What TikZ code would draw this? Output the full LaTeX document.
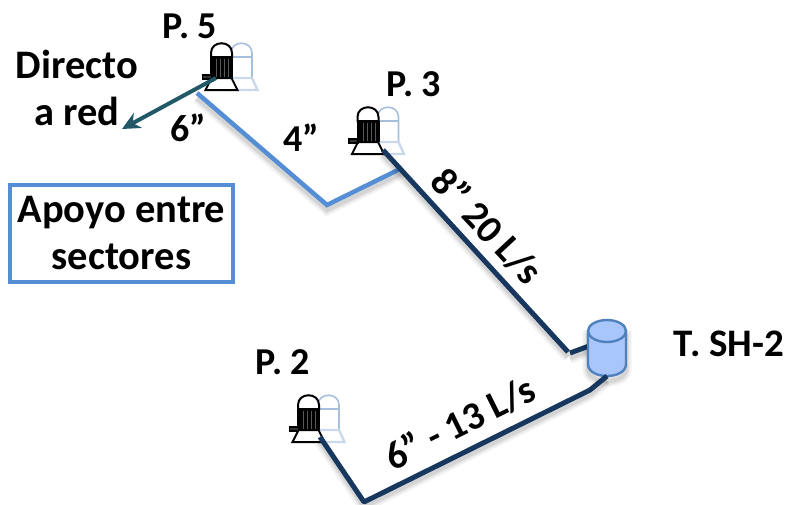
\documentclass[tikz,border=0pt]{standalone}
\usepackage{fontspec}
\setmainfont{Carlito}
\usetikzlibrary{shapes.geometric,arrows.meta}
\definecolor{navy}{HTML}{17375E}
\definecolor{lblue}{HTML}{558ED5}
\definecolor{teal}{HTML}{215968}
\definecolor{tankfill}{HTML}{A9C6FA}
\definecolor{tankline}{HTML}{4F81BD}
\definecolor{ghost}{HTML}{A6BFDD}
\tikzset{
  lbl/.style={font=\fontsize{38}{47}\selectfont\bfseries,text=black,inner sep=0pt,align=center},
  lblbig/.style={lbl,font=\fontsize{40.5}{47}\selectfont\bfseries},
  lblmid/.style={lbl,font=\fontsize{39}{47}\selectfont\bfseries},
  softshadow/.style={
    preaction={draw=black,opacity=.05,line width=11pt,transform canvas={yshift=-5pt},-},
    preaction={draw=black,opacity=.06,line width=7pt,transform canvas={yshift=-5pt},-},
    preaction={draw=black,opacity=.07,line width=4pt,transform canvas={yshift=-5pt},-}},
  navypipe/.style={softshadow,draw=navy,line width=5pt},
  bluepipe/.style={softshadow,draw=lblue,line width=4.5pt},
  arrowpipe/.style={draw=teal,line width=4pt,-{Stealth[length=18pt,width=17pt]}},
  pumpghost/.pic={
    \draw[ghost,line width=1.6pt] (-10.5,-12) -- (-10.5,-37) .. controls (-10.5,-50) and (10.5,-50) .. (10.5,-37) -- (10.5,-12);
    \draw[ghost,line width=1.6pt] (-10.5,-33) -- (10.5,-33);
    \draw[ghost!60,line width=2.4pt] (-10.5,-12) -- (10.5,-12) -- (16,0) -- (-16,0);
  },
  pumpblack/.pic={
    \draw[black,fill=white,line width=2pt] (-10.5,-33) -- (-10.5,-37) .. controls (-10.5,-50) and (10.5,-50) .. (10.5,-37) -- (10.5,-33) -- cycle;
    \fill[black] (-11.5,-33) rectangle (11.5,-12);
    \foreach \q in {-5,-1,3,7}{\draw[white!35!black,line width=.6pt] (\q,-31) -- (\q,-13);}
    \draw[black,fill=white,line width=2pt] (-10,-12) -- (10,-12) -- (16,0) -- (-16,0) -- cycle;
    \draw[black,line width=1.6pt,fill=black!80] (-19,-15) rectangle (-10,-11);
  },
}
\begin{document}
\begin{tikzpicture}[x=1pt,y=-1pt]
\useasboundingbox (0,0) rectangle (787,504);
% pumps
\path (241.5,90) pic {pumpghost};
\path (221.5,90) pic {pumpblack};
\path (388,154) pic {pumpghost};
\path (368,154) pic {pumpblack};
\path (328.5,442) pic {pumpghost};
\path (308.5,442) pic {pumpblack};
\coordinate (p5a) at (216,78);
\coordinate (p5b) at (197,93);
\coordinate (arrowend) at (122,129);
\coordinate (v1) at (327,205);
\coordinate (j1) at (402,168);
\coordinate (p3) at (383,150);
\coordinate (v2) at (568,352);
\coordinate (v2b) at (570,353);
\coordinate (tkin) at (589,346);
\coordinate (p2) at (320,437);
\coordinate (v3) at (364,502);
\coordinate (v4) at (590,390);
% pipes
\draw[bluepipe,line join=miter] (p5b) -- (v1) -- (j1);
\draw[navypipe] (p3) -- (v2);
\draw[navypipe] (v2b) -- (tkin);
% tank
\node[minimum width=38pt,minimum height=57pt,inner sep=0pt,outer sep=0pt] (tank) at (607,347.5) {};
\draw[softshadow,tankline,fill=tankfill,line width=2.4pt] (tank.north west|-0,331) -- (tank.south west|-0,364)
  .. controls (588,380) and (626,380) .. (tank.south east|-0,364) -- (tank.north east|-0,331) -- cycle;
\draw[tankline,fill=tankfill,line width=2.4pt] (607,331) ellipse (19pt and 11pt);
\draw[navypipe,line join=bevel] (p2) -- (v3) -- (v4) -- (tank.south);
\draw[arrowpipe] (p5a) -- (arrowend);
% labels
\node[lbl] (lp5) at (190,26) {P. 5};
\node[lblbig] (ld) at (77,88) {Directo\\a red};
\node[lbl] (l6) at (188,128) {6”};
\node[lbl] (l4) at (301,138) {4”};
\node[lbl] (lp3) at (414,84) {P. 3};
\node[lblmid,rotate=-47] (l8) at (487,226) {8” 20 L/s};
\node[lblmid] (ltk) at (729,344) {T. SH-2};
\node[lbl] (lp2) at (283,362) {P. 2};
\node[lblmid,rotate=26.5] (l13) at (460,423) {6” - 13 L/s};
\node[lblbig,draw=lblue,line width=4.5pt,minimum width=223pt,minimum height=97pt,inner sep=0pt] (box) at (121.5,233.5) {Apoyo entre\\sectores};
\end{tikzpicture}
\end{document}
